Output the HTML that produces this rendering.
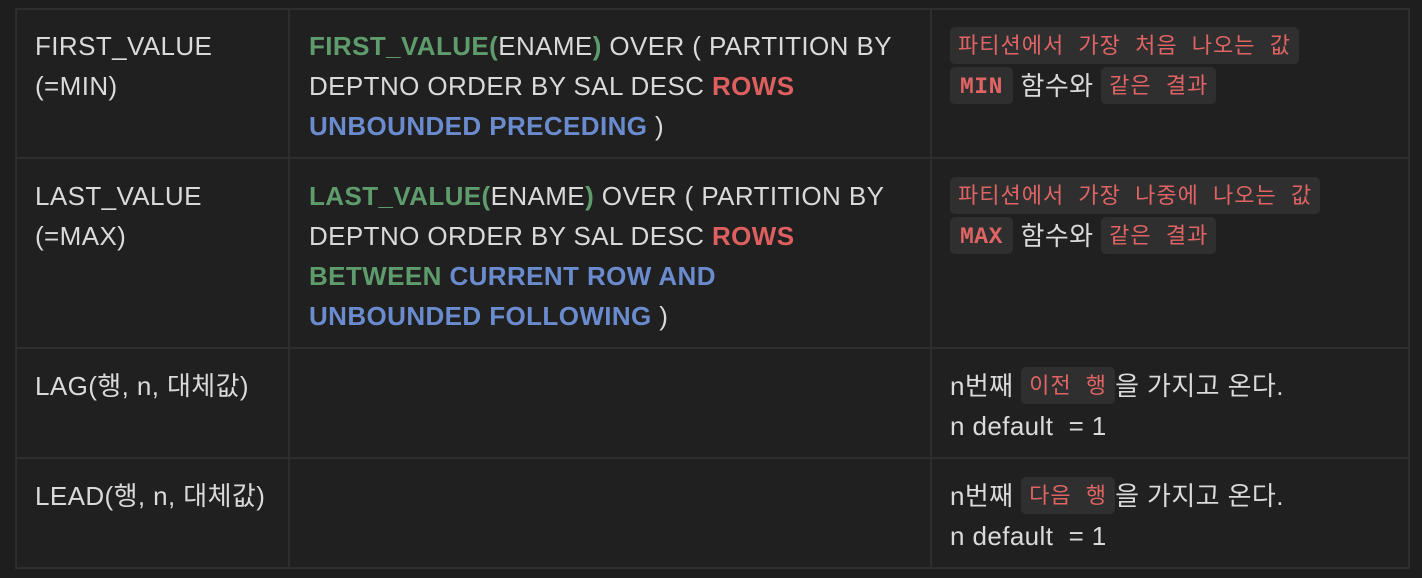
<!DOCTYPE html>
<html><head><meta charset="utf-8"><style>
body{margin:0;width:1422px;height:578px;background:#1e1e1e;overflow:hidden;font-family:"Liberation Sans","Noto Sans CJK KR",sans-serif;color:#dadada;}
.tbl{position:absolute;left:15px;top:8px;width:1395px;height:561px;border:2px solid #2e2e2e;box-sizing:border-box;background:#202020;}
.h{position:absolute;left:15px;width:1395px;height:2px;background:#2e2e2e}
.v{position:absolute;top:8px;height:561px;width:2px;background:#2e2e2e}
.t{position:absolute;font-size:26px;letter-spacing:0.4px;line-height:40px;height:auto;white-space:nowrap}
.g{color:#5f9c6c;font-weight:bold}.r{color:#de5f5f;font-weight:bold}.b{color:#6a8ccf;font-weight:bold}
.p{display:inline-block;box-sizing:border-box;background:#2f2f2f;border-radius:5px;color:#e06464;font-family:"Liberation Mono","Noto Sans CJK KR",monospace;font-size:22px;letter-spacing:1px;line-height:33px;height:37px;padding:4px 8px 0;vertical-align:top;margin-top:1px}
.m{font-weight:bold;font-size:23px;letter-spacing:0.5px;padding:4px 10px 0}
</style></head><body>
<div class="tbl"></div>
<div class="h" style="top:157px"></div>
<div class="h" style="top:347px"></div>
<div class="h" style="top:457px"></div>
<div class="v" style="left:288px"></div>
<div class="v" style="left:930px"></div>

<div class="t" style="left:35px;top:26px">FIRST_VALUE<br>(=MIN)</div>
<div class="t" style="left:309px;top:26px"><span class="g">FIRST_VALUE(</span>ENAME<span class="g">)</span> OVER ( PARTITION BY<br>DEPTNO ORDER BY SAL DESC <span class="r">ROWS</span><br><span class="b">UNBOUNDED PRECEDING</span> )</div>
<div class="t" style="left:950px;top:26px"><span class="p">파티션에서 가장 처음 나오는 값</span><br><span class="p m">MIN</span> 함수와 <span class="p">같은 결과</span></div>

<div class="t" style="left:35px;top:176px">LAST_VALUE<br>(=MAX)</div>
<div class="t" style="left:309px;top:176px"><span class="g">LAST_VALUE(</span>ENAME<span class="g">)</span> OVER ( PARTITION BY<br>DEPTNO ORDER BY SAL DESC <span class="r">ROWS</span><br><span class="g">BETWEEN</span> <span class="b">CURRENT ROW AND</span><br><span class="b">UNBOUNDED FOLLOWING</span> )</div>
<div class="t" style="left:950px;top:176px"><span class="p">파티션에서 가장 나중에 나오는 값</span><br><span class="p m">MAX</span> 함수와 <span class="p">같은 결과</span></div>

<div class="t" style="left:35px;top:366px">LAG(행, n, 대체값)</div>
<div class="t" style="left:950px;top:366px">n번째 <span class="p">이전 행</span>을 가지고 온다.<br>n default &nbsp;= 1</div>

<div class="t" style="left:35px;top:476px">LEAD(행, n, 대체값)</div>
<div class="t" style="left:950px;top:476px">n번째 <span class="p">다음 행</span>을 가지고 온다.<br>n default &nbsp;= 1</div>
</body></html>
